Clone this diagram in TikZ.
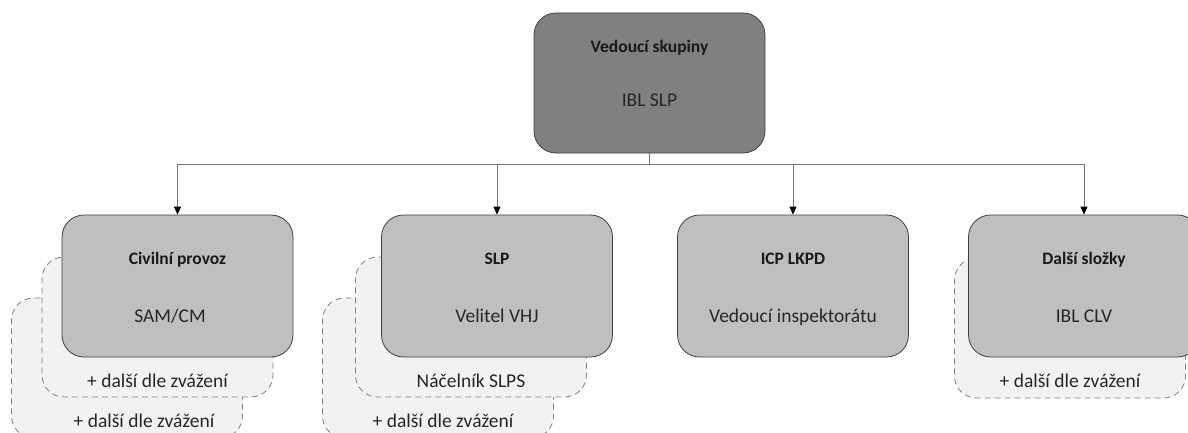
\documentclass[tikz,border=0pt]{standalone}
\usepackage{fontspec}
\setmainfont{Carlito}
\usetikzlibrary{arrows.meta, positioning}
\tikzset{
  lead/.style={draw=black!75, fill=black!50, rounded corners=22pt, minimum width=231pt, minimum height=140pt, inner sep=0pt, line width=0.8pt},
  unit/.style={lead, fill=black!25, minimum height=142pt},
  extra/.style={draw=black!50, fill=black!5, dash pattern=on 6pt off 4pt, rounded corners=22pt, minimum width=231pt, minimum height=140pt, inner sep=0pt, line width=0.8pt},
  head/.style={anchor=base, inner sep=0pt, text=black!90, font=\bfseries\fontsize{17.5}{21}\selectfont},
  txt/.style={anchor=base, inner sep=0pt, text=black!85, font=\fontsize{19.5}{23}\selectfont},
  link/.style={draw=black!55, line width=0.8pt, -{Triangle[color=black, length=8pt, width=7pt]}}
}
\begin{document}
\begin{tikzpicture}[x=1pt, y=-1pt]
\clip (0,0) rectangle (1188,433);

\node[lead] (lead) at (649.5,83) {};
\node[head] (lead-h) at (649.5,53) {Vedoucí skupiny};
\node[txt] (lead-t) at (649.5,107) {IBL SLP};

\node[extra] (civ-x2) at (127,368) {};
\node[txt] (civ-x2t) at (144,427) {+ další dle zvážení};
\node[extra] (civ-x1) at (157.5,327) {};
\node[txt] (civ-x1t) at (157.5,387) {+ další dle zvážení};
\node[unit] (civ) at (177.5,286) {};
\node[head] (civ-h) at (177.5,264) {Civilní provoz};
\node[txt] (civ-t) at (170,322) {SAM/CM};

\node[extra] (slp-x2) at (438,368) {};
\node[txt] (slp-x2t) at (443,427) {+ další dle zvážení};
\node[extra] (slp-x1) at (471,327) {};
\node[txt] (slp-x1t) at (471,387) {Náčelník SLPS};
\node[unit] (slp) at (497,286) {};
\node[head] (slp-h) at (497,264) {SLP};
\node[txt] (slp-t) at (497,322) {Velitel VHJ};

\node[unit] (icp) at (793,286) {};
\node[head] (icp-h) at (793,264) {ICP LKPD};
\node[txt] (icp-t) at (793,322) {Vedoucí inspektorátu};

\node[extra] (dal-x1) at (1070,328) {};
\node[txt] (dal-x1t) at (1070,387) {+ další dle zvážení};
\node[unit] (dal) at (1084,286) {};
\node[head] (dal-h) at (1084,264) {Další složky};
\node[txt] (dal-t) at (1084,322) {IBL CLV};

\draw[link] (lead.south) -- ++(0,11) -| (civ.north);
\draw[link] (lead.south) -- ++(0,11) -| (slp.north);
\draw[link] (lead.south) -- ++(0,11) -| (icp.north);
\draw[link] (lead.south) -- ++(0,11) -| (dal.north);
\end{tikzpicture}
\end{document}
